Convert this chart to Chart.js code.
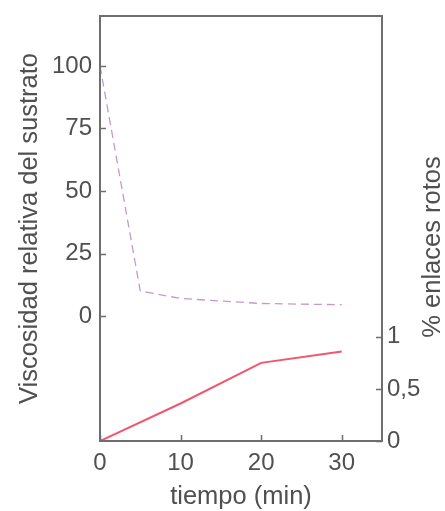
<!DOCTYPE html>
<html>
<head>
<meta charset="utf-8">
<script src="https://cdn.jsdelivr.net/npm/chart.js@4/dist/chart.umd.min.js"></script>
<style>
  html, body { margin: 0; padding: 0; background: #ffffff; }
  #wrap { width: 445px; height: 511px; position: relative; }
</style>
</head>
<body>
<div id="wrap"><canvas id="grafico"></canvas></div>
<script>
// datos
const tiempoViscosidad = [0, 5, 10, 20, 30];
const viscosidad = [100, 10, 7, 5, 4.5];
const tiempoEnlaces = [0, 10, 20, 30];
const enlacesRotos = [0, 0.36, 0.75, 0.86];

const ticksTiempo = [0, 10, 20, 30];
const ticksViscosidad = [0, 25, 50, 75, 100];
const ticksEnlaces = [0, 0.5, 1];

const tituloX = 'tiempo (min)';
const tituloIzq = 'Viscosidad relativa del sustrato';
const tituloDer = '% enlaces rotos';

const colorEje = '#6e6e6e';
const colorTexto = '#505050';
const fuente = "'Liberation Sans', Arial, sans-serif";

Chart.defaults.font.family = fuente;
Chart.defaults.color = colorTexto;

// marcas de los ejes y títulos dibujados a mano
const marcasYTitulos = {
    id: 'marcasYTitulos',
    afterDraw(chart) {
        const c = chart.ctx;
        const area = chart.chartArea;
        const sx = chart.scales.x, sy = chart.scales.y, sy2 = chart.scales.y2;
        c.save();
        c.strokeStyle = colorEje;
        c.lineWidth = 2;
        c.strokeRect(area.left, area.top, area.right - area.left, area.bottom - area.top);
        c.lineWidth = 1.5;
        c.beginPath();
        ticksTiempo.forEach(function(v) {
            const px = Math.round(sx.getPixelForValue(v)) + 0.5;
            c.moveTo(px, area.bottom);
            c.lineTo(px, area.bottom - 6);
        });
        ticksViscosidad.forEach(function(v) {
            const py = Math.round(sy.getPixelForValue(v)) + 0.5;
            c.moveTo(area.left, py);
            c.lineTo(area.left + 6, py);
        });
        ticksEnlaces.forEach(function(v) {
            const py = Math.round(sy2.getPixelForValue(v)) + 0.5;
            c.moveTo(area.right, py);
            c.lineTo(area.right - 6, py);
        });
        c.stroke();

        c.fillStyle = colorTexto;
        c.font = '25.5px ' + fuente;
        c.textAlign = 'center';
        c.textBaseline = 'middle';
        c.fillText(tituloX, (area.left + area.right) / 2, 497);

        c.save();
        c.translate(30, (area.top + area.bottom) / 2);
        c.rotate(-Math.PI / 2);
        c.fillText(tituloIzq, 0, 0);
        c.restore();

        c.save();
        c.translate(433, 247);
        c.rotate(-Math.PI / 2);
        c.fillText(tituloDer, 0, 0);
        c.restore();
        c.restore();
    }
};

function sinRelleno(s) {
    s.paddingTop = 0;
    s.paddingBottom = 0;
    s.paddingLeft = 0;
    s.paddingRight = 0;
}

document.addEventListener('DOMContentLoaded', function() {
    const ctx = document.getElementById('grafico').getContext('2d');

    new Chart(ctx, {
        type: 'line',
        data: {
            datasets: [{
                label: 'Viscosidad',
                data: tiempoViscosidad.map(function(t, i) { return { x: t, y: viscosidad[i] }; }),
                yAxisID: 'y',
                borderColor: '#c79ac6',
                borderWidth: 1.3,
                borderDash: [8, 5],
                pointRadius: 0,
                tension: 0
            }, {
                label: 'Enlaces rotos',
                data: tiempoEnlaces.map(function(t, i) { return { x: t, y: enlacesRotos[i] }; }),
                yAxisID: 'y2',
                borderColor: '#f0566e',
                borderWidth: 2,
                pointRadius: 0,
                tension: 0
            }]
        },
        options: {
            responsive: true,
            maintainAspectRatio: false,
            animation: false,
            layout: { padding: { top: 16, left: 0, right: 0, bottom: 0 } },
            plugins: {
                legend: { display: false },
                tooltip: { enabled: false }
            },
            scales: {
                x: {
                    type: 'linear',
                    min: 0,
                    max: 35,
                    border: { display: false },
                    grid: { display: false, drawTicks: false },
                    afterBuildTicks: function(s) { s.ticks = ticksTiempo.map(function(v) { return { value: v }; }); },
                    afterFit: function(s) { s.height = 70; sinRelleno(s); },
                    ticks: { font: { size: 24 }, color: colorTexto, padding: 8, maxRotation: 0 }
                },
                y: {
                    type: 'linear',
                    position: 'left',
                    min: -50,
                    max: 120,
                    border: { display: false },
                    grid: { display: false, drawTicks: false },
                    afterBuildTicks: function(s) { s.ticks = ticksViscosidad.map(function(v) { return { value: v }; }); },
                    afterFit: function(s) { s.width = 100; sinRelleno(s); },
                    ticks: { font: { size: 24 }, color: colorTexto, padding: 8 }
                },
                y2: {
                    type: 'linear',
                    position: 'right',
                    min: 0,
                    max: 4.08,
                    border: { display: false },
                    grid: { display: false, drawTicks: false },
                    afterBuildTicks: function(s) { s.ticks = ticksEnlaces.map(function(v) { return { value: v }; }); },
                    afterFit: function(s) { s.width = 63; sinRelleno(s); },
                    ticks: {
                        font: { size: 24 },
                        color: colorTexto,
                        padding: 5,
                        callback: function(v) { return String(v).replace('.', ','); }
                    }
                }
            }
        },
        plugins: [marcasYTitulos]
    });
});
</script>
</body>
</html>
